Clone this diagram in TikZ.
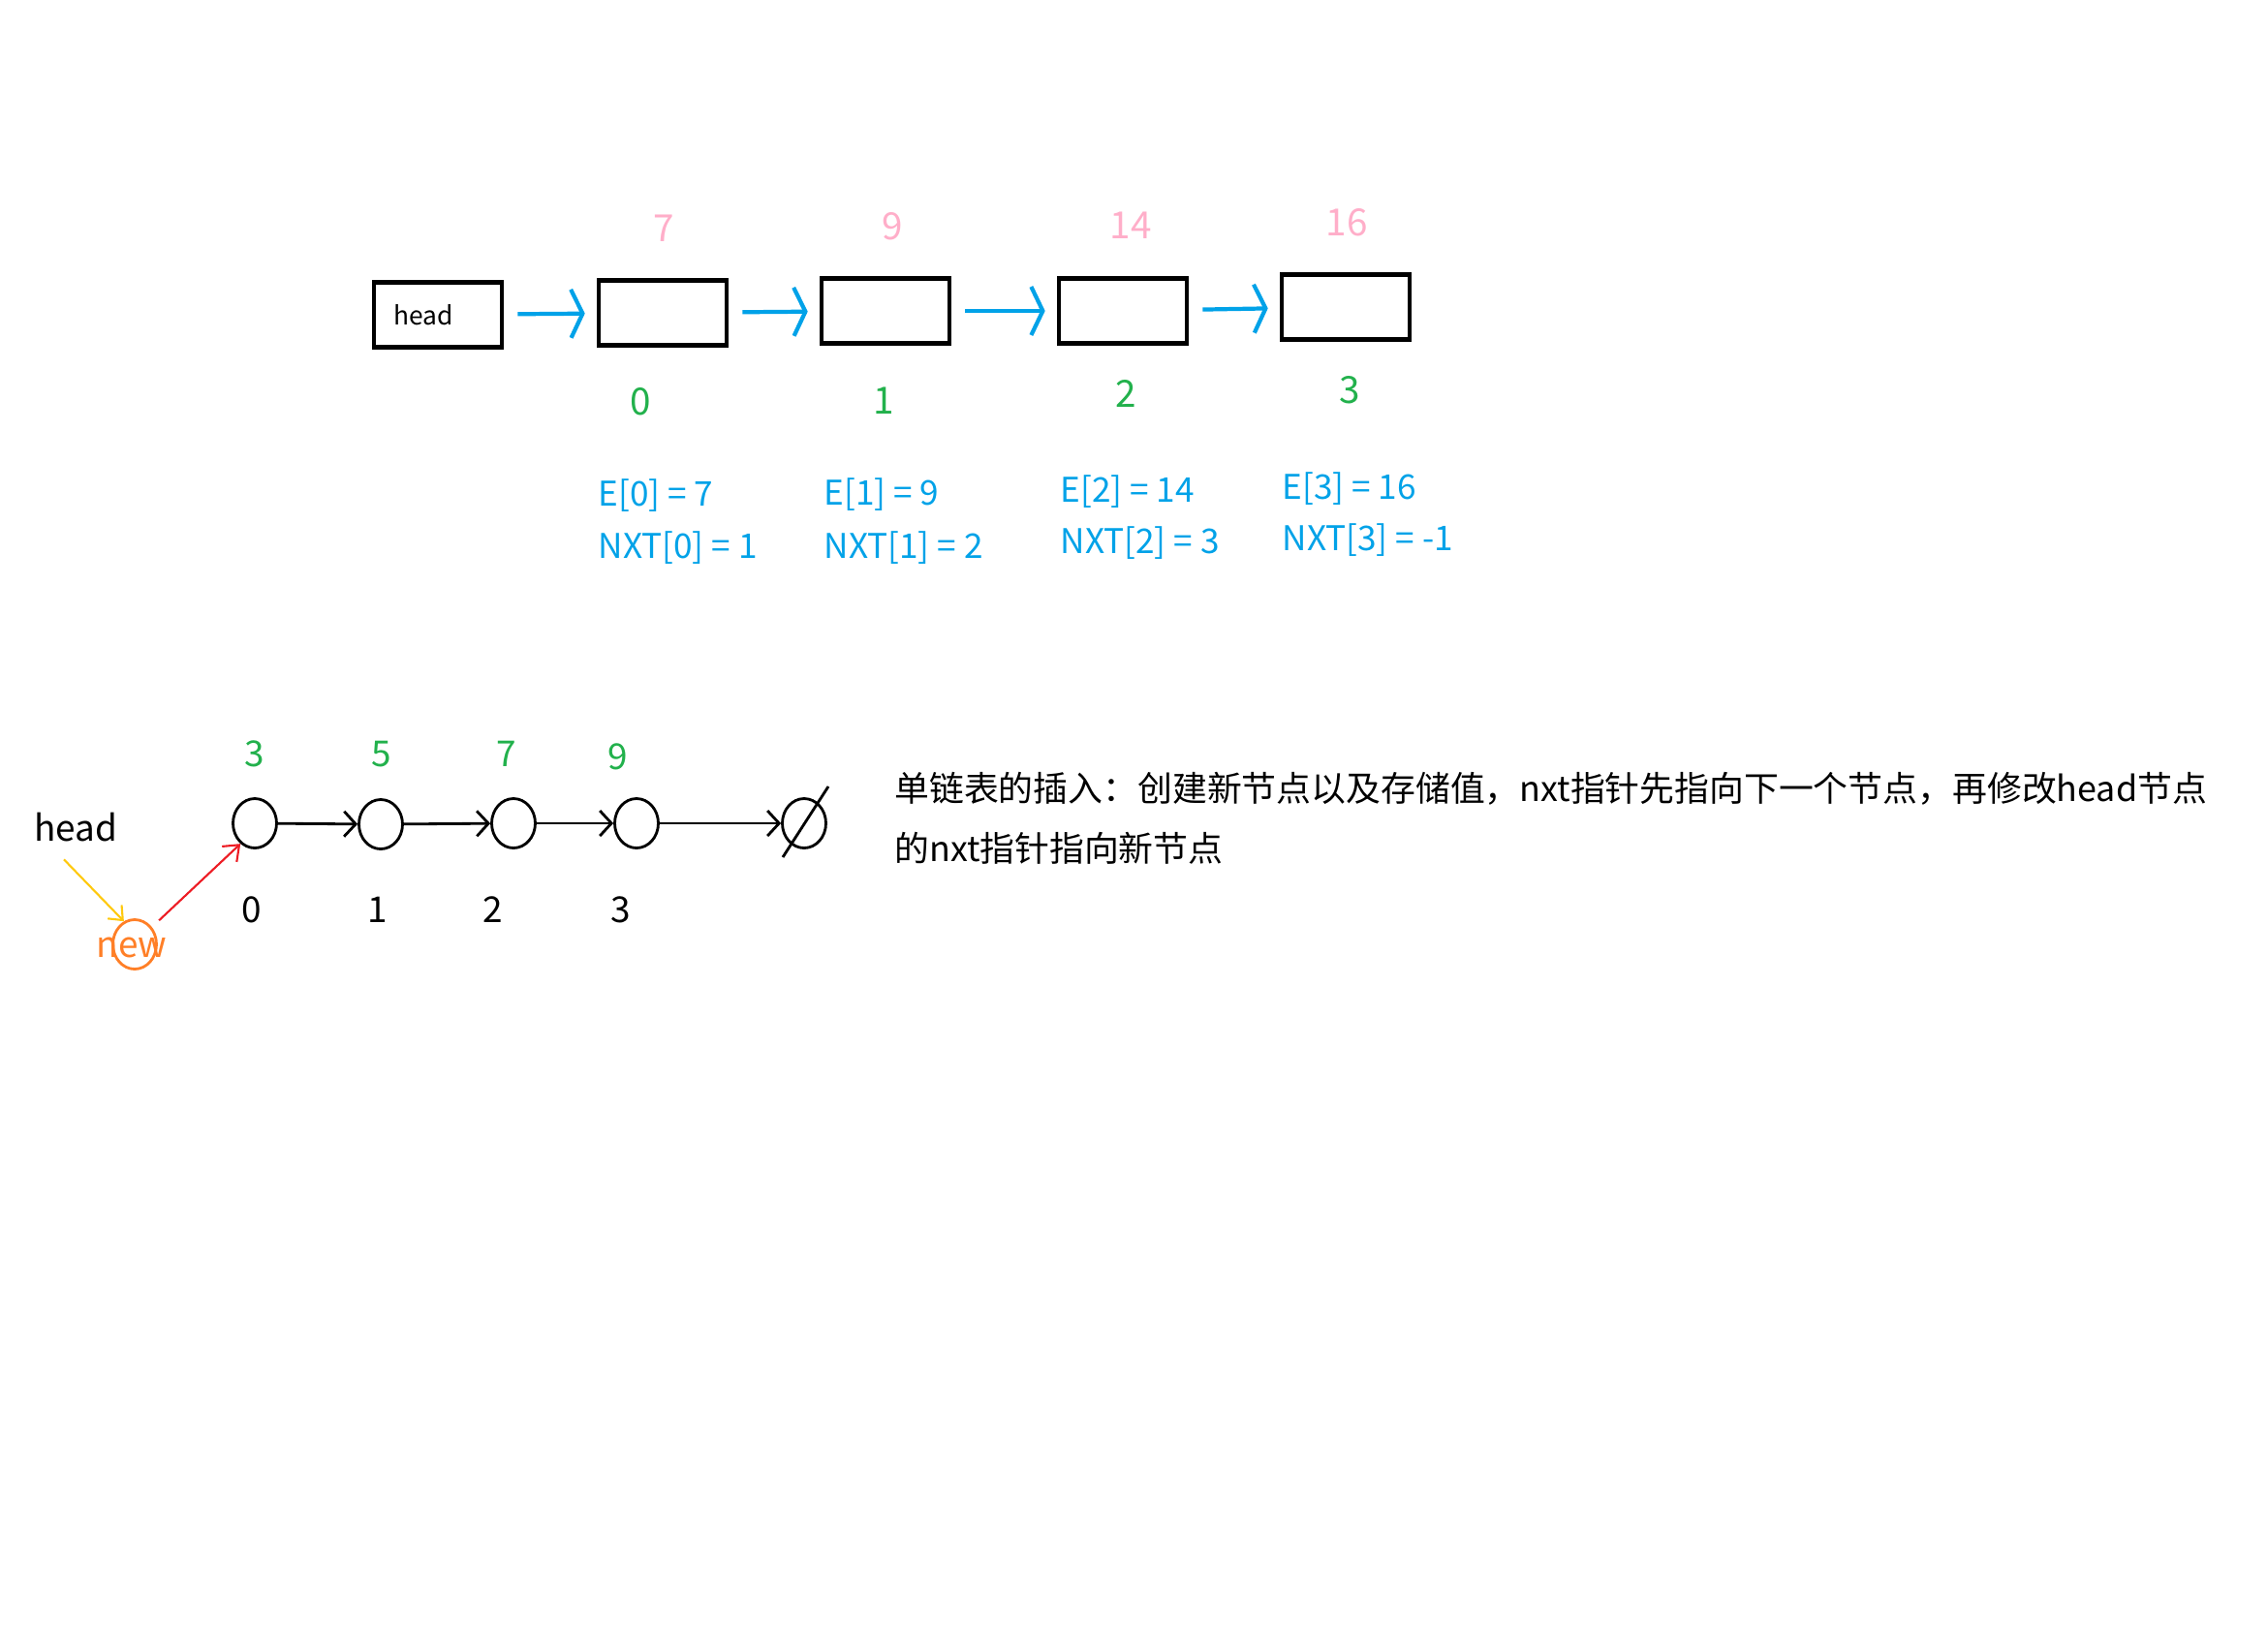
\documentclass[tikz,border=0pt]{standalone}
\usepackage{fontspec}
\setmainfont{Noto Sans CJK SC}
\usetikzlibrary{arrows.meta,shapes.geometric}
\definecolor{msblue}{RGB}{0,162,232}
\definecolor{mspink}{RGB}{255,174,201}
\definecolor{msgreen}{RGB}{34,177,76}
\definecolor{msorange}{RGB}{255,127,39}
\definecolor{msyellow}{RGB}{255,201,14}
\definecolor{msred}{RGB}{237,28,36}

\begin{document}
\begin{tikzpicture}[
  cellbox/.style={draw,line width=1.3pt,minimum width=1.32cm,minimum height=0.67cm,inner sep=0pt},
  linkarrow/.style={msblue,line width=1.2pt,-{Straight Barb[length=0.12cm,width=0.5cm]},
    shorten <=0.14cm,shorten >=0.12cm},
  valtxt/.style={text=mspink,font=\fontsize{11}{13}\selectfont},
  idxtxt/.style={text=msgreen,font=\fontsize{11}{13}\selectfont},
  arrtxt/.style={text=msblue,font=\fontsize{10}{12}\selectfont,anchor=west,inner xsep=0pt},
  listnode/.style={draw,ellipse,line width=0.8pt,minimum width=0.45cm,minimum height=0.51cm,inner sep=0pt},
  nextarrow/.style={line width=0.8pt,-{Straight Barb[length=0.12cm,width=0.26cm]}},
  bottxt/.style={font=\fontsize{10.5}{13}\selectfont}
]
  \useasboundingbox (0,0) rectangle (23.41,-16.85);
  % Array version
  \node[cellbox,font=\fontsize{7.5}{9}\selectfont] (headbox) at (4.52,-3.25) {head\kern0.3cm\relax};
  \node[cellbox] (cell0) at (6.84,-3.23) {};
  \node[cellbox] (cell1) at (9.14,-3.21) {};
  \node[cellbox] (cell2) at (11.59,-3.21) {};
  \node[cellbox] (cell3) at (13.89,-3.17) {};
  \draw[linkarrow] (headbox) -- (cell0);
  \draw[linkarrow] (cell0) -- (cell1);
  \draw[linkarrow] (cell1) -- (cell2);
  \draw[linkarrow] (cell2) -- (cell3);
  % Values
  \node[valtxt] (val0) at (6.85,-2.36) {7};
  \node[valtxt] (val1) at (9.21,-2.34) {9};
  \node[valtxt] (val2) at (11.67,-2.33) {14};
  \node[valtxt] (val3) at (13.90,-2.30) {16};
  % Indices
  \node[idxtxt] (idx0) at (6.61,-4.15) {0};
  \node[idxtxt] (idx1) at (9.12,-4.14) {1};
  \node[idxtxt] (idx2) at (11.62,-4.06) {2};
  \node[idxtxt] (idx3) at (13.93,-4.03) {3};
  % Arrays
  \node[arrtxt] (e0) at (6.17,-5.12) {E[0] = 7};
  \node[arrtxt] (nxt0) at (6.17,-5.66) {NXT[0] = 1};
  \node[arrtxt] (e1) at (8.50,-5.11) {E[1] = 9};
  \node[arrtxt] (nxt1) at (8.50,-5.66) {NXT[1] = 2};
  \node[arrtxt] (e2) at (10.94,-5.08) {E[2] = 14};
  \node[arrtxt] (nxt2) at (10.94,-5.61) {NXT[2] = 3};
  \node[arrtxt] (e3) at (13.23,-5.05) {E[3] = 16};
  \node[arrtxt] (nxt3) at (13.23,-5.58) {NXT[3] = -1};

  % Insertion
  \node[bottxt] (headtxt) at (0.78,-8.54) {head};
  \node[listnode] (c0) at (2.63,-8.50) {};
  \node[listnode] (c1) at (3.93,-8.51) {};
  \node[listnode] (c2) at (5.30,-8.50) {};
  \node[listnode] (c3) at (6.57,-8.50) {};
  \node[listnode] (cnull) at (8.30,-8.50) {};
  \draw[line width=0.8pt] ([shift={(-0.22,-0.35)}]cnull.center) -- ([shift={(0.25,0.38)}]cnull.center);
  \draw[nextarrow] (c0) -- (c1);
  \draw[nextarrow] (c1) -- (c2);
  \draw[nextarrow] (c2) -- (c3);
  \draw[nextarrow] (c3) -- (cnull);
  \node[bottxt,text=msgreen] (v0) at (2.63,-7.78) {3};
  \node[bottxt,text=msgreen] (v1) at (3.94,-7.79) {5};
  \node[bottxt,text=msgreen] (v2) at (5.23,-7.78) {7};
  \node[bottxt,text=msgreen] (v3) at (6.38,-7.81) {9};
  \node[bottxt] (i0) at (2.60,-9.39) {0};
  \node[bottxt] (i1) at (3.90,-9.39) {1};
  \node[bottxt] (i2) at (5.09,-9.39) {2};
  \node[bottxt] (i3) at (6.41,-9.39) {3};
  \node[listnode,draw=msorange] (newc) at (1.39,-9.75) {};
  \node[bottxt,text=msorange] (newtxt) at (1.36,-9.78) {new};
  \draw[msyellow,line width=0.6pt,-{Straight Barb[length=0.12cm,width=0.2cm]}]
    ([xshift=-0.12cm,yshift=-0.06cm]headtxt.south) -- (newc.115);
  \draw[msred,line width=0.6pt,-{Straight Barb[length=0.14cm,width=0.22cm]},shorten <=0.1cm]
    (newc.45) -- (c0.235);

  \node[anchor=west,align=left,font=\fontsize{10.2}{17.6}\selectfont] (insertnote) at (9.11,-8.45)
    {单链表的插入：创建新节点以及存储值，nxt指针先指向下一个节点，再修改head节点\\的nxt指针指向新节点};
\end{tikzpicture}
\end{document}
